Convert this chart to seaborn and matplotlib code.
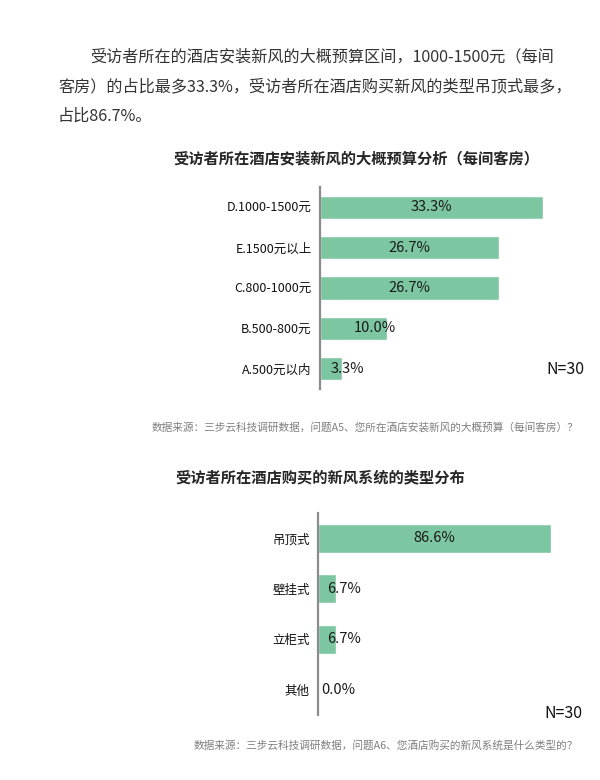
import pandas as pd
import matplotlib
matplotlib.use("Agg")
import matplotlib.pyplot as plt
import seaborn as sns

# data
budget_labels = ["D.1000-1500元", "E.1500元以上", "C.800-1000元", "B.500-800元", "A.500元以内"]
budget_values = [33.3, 26.7, 26.7, 10.0, 3.3]

type_labels = ["吊顶式", "壁挂式", "立柜式", "其他"]
type_values = [86.6, 6.7, 6.7, 0.0]

intro_lines = [
    "受访者所在的酒店安装新风的大概预算区间，1000-1500元（每间",
    "客房）的占比最多33.3%，受访者所在酒店购买新风的类型吊顶式最多，",
    "占比86.7%。",
]
title_top = "受访者所在酒店安装新风的大概预算分析（每间客房）"
title_bottom = "受访者所在酒店购买的新风系统的类型分布"
source_top = "数据来源：三步云科技调研数据，问题A5、您所在酒店安装新风的大概预算（每间客房）？"
source_bottom = "数据来源：三步云科技调研数据，问题A6、您酒店购买的新风系统是什么类型的？"

sns.set_style("white")
plt.rcParams["font.family"] = ["Noto Sans CJK SC", "DejaVu Sans"]

BAR = "#7dc6a2"
W, H = 600, 780
fig = plt.figure(figsize=(6, 7.8), dpi=100)


def px_axes(left, top, right, bottom):
    return fig.add_axes([left / W, 1 - bottom / H, (right - left) / W, (bottom - top) / H])


def draw_bars(ax, labels, values, xmax, cutoff):
    df = pd.DataFrame({"label": labels, "value": values})
    sns.barplot(data=df, x="value", y="label", orient="h", color=BAR,
                width=0.57, saturation=1, ax=ax)
    ax.set_xlim(0, xmax)
    ax.set_ylim(len(labels) - 0.5, -0.5)
    ax.set_xlabel("")
    ax.set_ylabel("")
    ax.set_xticks([])
    for s in ["top", "right", "bottom"]:
        ax.spines[s].set_visible(False)
    ax.spines["left"].set_color("#8c8c8c")
    ax.spines["left"].set_linewidth(1.6)
    ax.tick_params(axis="y", length=0, pad=6, labelsize=9, labelcolor="#111111")
    for i, v in enumerate(values):
        if v >= cutoff:
            ax.text(v / 2, i, f"{v:.1f}%", ha="center", va="center", fontsize=10.5, color="#1a1a1a")
        else:
            ax.text(max(v / 2, xmax * 0.012), i, f"{v:.1f}%", ha="left", va="center",
                    fontsize=10.5, color="#1a1a1a")


# intro paragraph
fig.text(90 / W, 1 - 57 / H, intro_lines[0], fontsize=11.6, color="#333333", va="center")
fig.text(58 / W, 1 - 87 / H, intro_lines[1], fontsize=11.6, color="#333333", va="center")
fig.text(58 / W, 1 - 116 / H, intro_lines[2], fontsize=11.6, color="#333333", va="center")

# top chart
fig.text(356 / W, 1 - 158 / H, title_top, fontsize=11, fontweight="bold", ha="center", va="center")
ax1 = px_axes(320, 187, 590, 389)
draw_bars(ax1, budget_labels, budget_values, 270 / 6.7, 20)
fig.text(584 / W, 1 - 369 / H, "N=30", fontsize=11.5, ha="right", va="center", color="#111111")
fig.text(578 / W, 1 - 427 / H, source_top, fontsize=7.7, ha="right", va="center", color="#7f7f7f")

# bottom chart
fig.text(320 / W, 1 - 477 / H, title_bottom, fontsize=11, fontweight="bold", ha="center", va="center")
ax2 = px_axes(318, 513, 590, 715)
draw_bars(ax2, type_labels, type_values, 272 / 2.69, 20)
fig.text(582 / W, 1 - 713 / H, "N=30", fontsize=11.5, ha="right", va="center", color="#111111")
fig.text(578 / W, 1 - 745 / H, source_bottom, fontsize=7.7, ha="right", va="center", color="#7f7f7f")

fig.savefig("out.png", dpi=100, facecolor="white")
